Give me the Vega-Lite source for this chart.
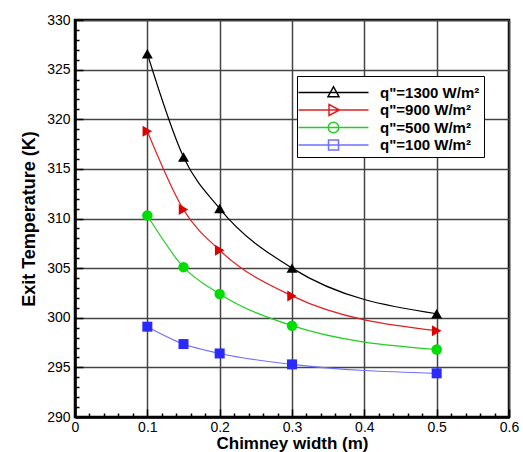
{
  "$schema": "https://vega.github.io/schema/vega-lite/v6.json",
  "width": 434,
  "height": 397,
  "autosize": "none",
  "padding": {"left": 75, "top": 20, "right": 14, "bottom": 35},
  "background": "white",
  "config": {
    "font": "Liberation Sans",
    "view": {"stroke": "black", "strokeWidth": 2.5},
    "legend": {
      "orient": "none",
      "legendX": 222,
      "legendY": 56,
      "padding": 4,
      "fillColor": "white",
      "strokeColor": "black",
      "titleFontSize": 5,
      "titleColor": "white",
      "titlePadding": 0,
      "labelFontSize": 15,
      "labelFontWeight": "bold",
      "labelColor": "black",
      "labelLimit": 300,
      "symbolOffset": 25,
      "labelOffset": 39,
      "rowPadding": 0.5
    }
  },
  "data": {
    "values": [
      {"x": 0.1, "T": 326.6, "label": "q\"=1300 W/m²"},
      {"x": 0.15, "T": 316.2, "label": "q\"=1300 W/m²"},
      {"x": 0.2, "T": 311.0, "label": "q\"=1300 W/m²"},
      {"x": 0.3, "T": 305.0, "label": "q\"=1300 W/m²"},
      {"x": 0.5, "T": 300.4, "label": "q\"=1300 W/m²"},
      {"x": 0.1, "T": 318.8, "label": "q\"=900 W/m²"},
      {"x": 0.15, "T": 310.9, "label": "q\"=900 W/m²"},
      {"x": 0.2, "T": 306.8, "label": "q\"=900 W/m²"},
      {"x": 0.3, "T": 302.2, "label": "q\"=900 W/m²"},
      {"x": 0.5, "T": 298.7, "label": "q\"=900 W/m²"},
      {"x": 0.1, "T": 310.3, "label": "q\"=500 W/m²"},
      {"x": 0.15, "T": 305.1, "label": "q\"=500 W/m²"},
      {"x": 0.2, "T": 302.4, "label": "q\"=500 W/m²"},
      {"x": 0.3, "T": 299.2, "label": "q\"=500 W/m²"},
      {"x": 0.5, "T": 296.8, "label": "q\"=500 W/m²"},
      {"x": 0.1, "T": 299.1, "label": "q\"=100 W/m²"},
      {"x": 0.15, "T": 297.35, "label": "q\"=100 W/m²"},
      {"x": 0.2, "T": 296.4, "label": "q\"=100 W/m²"},
      {"x": 0.3, "T": 295.3, "label": "q\"=100 W/m²"},
      {"x": 0.5, "T": 294.4, "label": "q\"=100 W/m²"}
    ]
  },
  "resolve": {"axis": {"x": "independent", "y": "independent"}},
  "layer": [
    {
      "mark": {"type": "line", "interpolate": "monotone", "strokeWidth": 1.2},
      "encoding": {
        "x": {
          "field": "x", "type": "quantitative",
          "scale": {"domain": [0, 0.6], "nice": false, "zero": false},
          "axis": {
            "orient": "bottom",
            "values": [0, 0.1, 0.2, 0.3, 0.4, 0.5, 0.6],
            "format": "~g",
            "grid": true, "gridColor": "#444444", "gridWidth": 1.5,
            "ticks": false,
            "domainColor": "black", "domainWidth": 2.5,
            "labelFontSize": 14, "labelColor": "black", "labelPadding": 3, "labelFlush": false,
            "title": "Chimney width (m)", "titleFontSize": 17, "titleFontWeight": "bold", "titleColor": "black", "titlePadding": 1
          }
        },
        "y": {
          "field": "T", "type": "quantitative",
          "scale": {"domain": [290, 330], "nice": false, "zero": false},
          "axis": {
            "orient": "left",
            "values": [290, 295, 300, 305, 310, 315, 320, 325, 330],
            "grid": true, "gridColor": "#444444", "gridWidth": 1.5,
            "ticks": false,
            "domainColor": "black", "domainWidth": 2.5,
            "labelFontSize": 14, "labelColor": "black", "labelPadding": 5, "labelFlush": false,
            "title": "Exit Temperature (K)", "titleFontSize": 18, "titleFontWeight": "bold", "titleColor": "black", "titlePadding": 8
          }
        },
        "color": {
          "field": "label", "type": "nominal",
          "scale": {"range": ["#7070ff", "#000000", "#20d020", "#e02020"]},
          "legend": null
        }
      }
    },
    {
      "mark": {"type": "point", "filled": true, "size": 100, "strokeWidth": 1.3, "opacity": 0},
      "encoding": {
        "x": {
          "field": "x", "type": "quantitative",
          "axis": {
            "orient": "bottom",
            "values": [0, 0.02, 0.04, 0.06, 0.08, 0.1, 0.12, 0.14, 0.16, 0.18, 0.2, 0.22, 0.24, 0.26, 0.28, 0.3, 0.32, 0.34, 0.36, 0.38, 0.4, 0.42, 0.44, 0.46, 0.48, 0.5, 0.52, 0.54, 0.56, 0.58, 0.6],
            "labels": false, "domain": false, "grid": false, "title": null,
            "ticks": true, "tickColor": "black", "tickWidth": 1.5,
            "tickSize": {"condition": {"test": "abs(datum.value*10 - round(datum.value*10)) < 0.000001", "value": -8}, "value": -4}
          }
        },
        "y": {
          "field": "T", "type": "quantitative",
          "axis": {
            "orient": "left",
            "values": [290, 291, 292, 293, 294, 295, 296, 297, 298, 299, 300, 301, 302, 303, 304, 305, 306, 307, 308, 309, 310, 311, 312, 313, 314, 315, 316, 317, 318, 319, 320, 321, 322, 323, 324, 325, 326, 327, 328, 329, 330],
            "labels": false, "domain": false, "grid": false, "title": null,
            "ticks": true, "tickColor": "black", "tickWidth": 1.5,
            "tickSize": {"condition": {"test": "datum.value % 5 === 0", "value": -8}, "value": -4}
          }
        },
        "shape": {
          "field": "label", "type": "nominal",
          "scale": {
            "domain": ["q\"=1300 W/m²", "q\"=900 W/m²", "q\"=500 W/m²", "q\"=100 W/m²"],
            "range": [
              "M-7,0H7M0,-1.15L1.1,0.85H-1.1Z",
              "M-7,0H7M-0.9,-1.1L1.2,0L-0.9,1.1Z",
              "M-7,0H7M1.05,0A1.05,1.05 0 1,1 -1.05,0A1.05,1.05 0 1,1 1.05,0Z",
              "M-7,0H7M-1,-1H1V1H-1Z"
            ]
          },
          "legend": {"encode": {"symbols": {"update": {"opacity": {"value": 1}, "fillOpacity": {"value": 1}, "strokeOpacity": {"value": 1}}}}}
        },
        "fill": {
          "field": "label", "type": "nominal",
          "scale": {
            "domain": ["q\"=1300 W/m²", "q\"=900 W/m²", "q\"=500 W/m²", "q\"=100 W/m²"],
            "range": ["#000000", "#dd0000", "#00dd00", "#2a2aff"]
          }
        },
        "stroke": {
          "field": "label", "type": "nominal",
          "scale": {
            "domain": ["q\"=1300 W/m²", "q\"=900 W/m²", "q\"=500 W/m²", "q\"=100 W/m²"],
            "range": ["#000000", "#e02020", "#20d020", "#7070ff"]
          }
        }
      }
    },
    {
      "transform": [{"filter": {"field": "label", "equal": "q\"=1300 W/m²"}}],
      "mark": {"type": "point", "shape": "triangle-up", "filled": true, "fill": "#000000", "size": 120, "opacity": 1},
      "encoding": {
        "x": {"field": "x", "type": "quantitative", "axis": null},
        "y": {"field": "T", "type": "quantitative", "axis": null}
      }
    },
    {
      "transform": [{"filter": {"field": "label", "equal": "q\"=900 W/m²"}}],
      "mark": {"type": "point", "shape": "triangle-right", "filled": true, "fill": "#dd0000", "size": 120, "opacity": 1},
      "encoding": {
        "x": {"field": "x", "type": "quantitative", "axis": null},
        "y": {"field": "T", "type": "quantitative", "axis": null}
      }
    },
    {
      "transform": [{"filter": {"field": "label", "equal": "q\"=500 W/m²"}}],
      "mark": {"type": "point", "shape": "circle", "filled": true, "fill": "#00dd00", "size": 110, "opacity": 1},
      "encoding": {
        "x": {"field": "x", "type": "quantitative", "axis": null},
        "y": {"field": "T", "type": "quantitative", "axis": null}
      }
    },
    {
      "transform": [{"filter": {"field": "label", "equal": "q\"=100 W/m²"}}],
      "mark": {"type": "point", "shape": "square", "filled": true, "fill": "#2a2aff", "size": 100, "opacity": 1},
      "encoding": {
        "x": {"field": "x", "type": "quantitative", "axis": null},
        "y": {"field": "T", "type": "quantitative", "axis": null}
      }
    }
  ]
}
